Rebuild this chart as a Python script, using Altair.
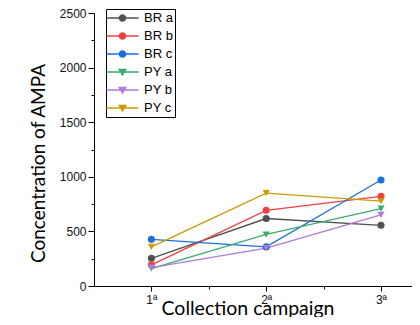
import altair as alt
import pandas as pd

campaigns = ["1ª", "2ª", "3ª"]
series_names = ["BR a", "BR b", "BR c", "PY a", "PY b", "PY c"]
br_a = [254, 618, 556]
br_b = [194, 693, 821]
br_c = [427, 358, 971]
py_a = [160, 472, 708]
py_b = [168, 347, 651]
py_c = [358, 851, 777]
colors = ["#515151", "#F14040", "#1A6FDF", "#37AD6B", "#B177DE", "#CC9900"]
shapes = ["circle", "circle", "circle", "triangle-down", "triangle-down", "triangle-down"]
y_ticks = [0, 250, 500, 750, 1000, 1250, 1500, 1750, 2000, 2250, 2500]
x_ticks = [1, 2, 3]
x_all_ticks = [1, 1.5, 2, 2.5, 3]

# legend glyphs: a thin filled bar (the line) plus the marker
circle_leg = ("M-2.3,-0.09H2.3V0.09H-2.3Z"
              "M0.55,0A0.55,0.55,0,1,1,-0.55,0A0.55,0.55,0,1,1,0.55,0Z")
tri_leg = "M-2.3,-0.09H2.3V0.09H-2.3ZM-0.65,-0.45L0.65,-0.45L0,0.6Z"
legend_shapes = [circle_leg] * 3 + [tri_leg] * 3

rows = []
for name, vals in zip(series_names, [br_a, br_b, br_c, py_a, py_b, py_c]):
    for i, (c, v) in enumerate(zip(campaigns, vals)):
        rows.append({"series": name, "legend_series": name, "campaign": c,
                     "pos": x_ticks[i], "value": v})
df = pd.DataFrame(rows)

x_label_expr = ("datum.value % 1 === 0 ? [" + ",".join("'" + c + "'" for c in [""] + campaigns)
                + "][datum.value] : ''")

xscale = alt.Scale(domain=[0.5, 3.27], nice=False, zero=False)
yscale = alt.Scale(domain=[0, 2500], nice=False, zero=True)

common_axis = dict(
    domainColor="black", tickColor="black", domainWidth=1, tickWidth=1,
    grid=False, labelFont="Liberation Sans", labelFontSize=12, labelColor="#111",
)

x_enc = alt.X("pos:Q", scale=xscale, axis=alt.Axis(
    values=x_all_ticks, labelExpr=x_label_expr,
    tickSize={"expr": "datum.value % 1 === 0 ? 5 : 3"}, labelPadding=3,
    title="Collection campaign", titleFont="Lato", titleFontSize=19.5,
    titleFontWeight="normal", titleColor="black", titleX=153.5, titleY=28,
    titleBaseline="alphabetic", titleAlign="center", **common_axis))
y_enc = alt.Y("value:Q", scale=yscale, axis=alt.Axis(
    values=y_ticks, format="d",
    labelExpr="datum.value % 500 === 0 ? datum.label : ''",
    tickSize={"expr": "datum.value % 500 === 0 ? 6 : 3"}, labelPadding=2,
    title="Concentration of AMPA", titleFont="Lato", titleFontSize=19,
    titleFontWeight="normal", titleColor="black", titleX=-50, titleY=150,
    titleAngle=270, titleBaseline="alphabetic", titleAlign="center", **common_axis))

leg = dict(
    orient="none", legendX=12, legendY=-4, title=None,
    strokeColor="black", fillColor="white", padding=2,
    labelFont="Liberation Sans", labelFontSize=13, labelColor="black",
    symbolSize=196, symbolStrokeWidth=0, symbolOffset=7.5, labelOffset=14.5,
    rowPadding=4, symbolOpacity=1,
)

base = alt.Chart(df)

lines = base.mark_line(strokeWidth=1.3).encode(
    x=x_enc, y=y_enc,
    color=alt.Color("series:N", scale=alt.Scale(domain=series_names, range=colors), legend=None),
)
points = base.mark_point(filled=True, size=50, opacity=1).encode(
    x=x_enc, y=y_enc,
    color=alt.Color("series:N", scale=alt.Scale(domain=series_names, range=colors), legend=None),
    shape=alt.Shape("series:N", scale=alt.Scale(domain=series_names, range=shapes), legend=None),
)
legend_layer = base.mark_point(filled=True).encode(
    x=x_enc, y=y_enc,
    opacity=alt.value(0),
    color=alt.Color("legend_series:N", scale=alt.Scale(domain=series_names, range=colors),
                    legend=alt.Legend(**leg)),
    shape=alt.Shape("legend_series:N", scale=alt.Scale(domain=series_names, range=legend_shapes),
                    legend=alt.Legend(**leg)),
)

chart = alt.layer(lines, points, legend_layer).resolve_scale(
    color="independent", shape="independent"
).properties(
    width=318, height=273,
    autosize=alt.AutoSizeParams(type="none"),
    padding={"left": 86, "top": 5, "right": 0, "bottom": 31},
).configure_view(stroke=None)

chart.save("out.html", embed_options={"renderer": "svg", "actions": False})
